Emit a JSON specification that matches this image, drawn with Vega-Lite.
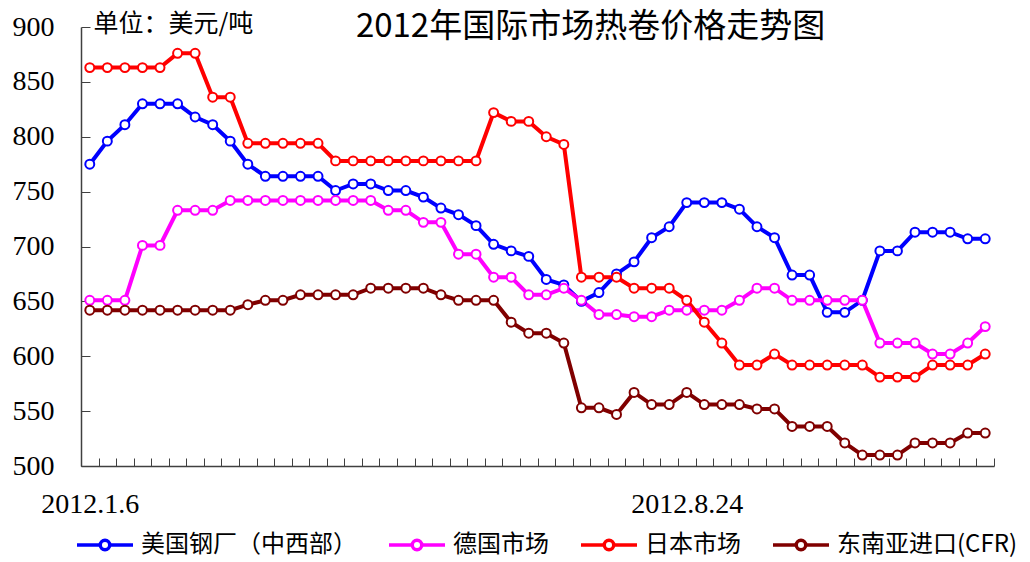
{
  "$schema": "https://vega.github.io/schema/vega-lite/v6.json",
  "width": 913,
  "height": 439,
  "autosize": {"type": "none"},
  "padding": {"left": 81, "top": 27, "right": 36, "bottom": 96},
  "background": "white",
  "config": {"view": {"stroke": null}, "font": "Noto Sans CJK SC"},
  "title": {
    "text": "2012年国际市场热卷价格走势图",
    "font": "Noto Sans CJK SC",
    "fontSize": 33,
    "fontWeight": "normal",
    "color": "black",
    "anchor": "middle",
    "frame": "group",
    "dx": 53,
    "offset": -33
  },
  "data": {
    "values": [
      {"w": 0, "美国钢厂（中西部）": 775, "德国市场": 651, "日本市场": 863, "东南亚进口(CFR)": 642},
      {"w": 1, "美国钢厂（中西部）": 796, "德国市场": 651, "日本市场": 863, "东南亚进口(CFR)": 642},
      {"w": 2, "美国钢厂（中西部）": 811, "德国市场": 651, "日本市场": 863, "东南亚进口(CFR)": 642},
      {"w": 3, "美国钢厂（中西部）": 830, "德国市场": 701, "日本市场": 863, "东南亚进口(CFR)": 642},
      {"w": 4, "美国钢厂（中西部）": 830, "德国市场": 701, "日本市场": 863, "东南亚进口(CFR)": 642},
      {"w": 5, "美国钢厂（中西部）": 830, "德国市场": 733, "日本市场": 876, "东南亚进口(CFR)": 642},
      {"w": 6, "美国钢厂（中西部）": 818, "德国市场": 733, "日本市场": 876, "东南亚进口(CFR)": 642},
      {"w": 7, "美国钢厂（中西部）": 811, "德国市场": 733, "日本市场": 836, "东南亚进口(CFR)": 642},
      {"w": 8, "美国钢厂（中西部）": 796, "德国市场": 742, "日本市场": 836, "东南亚进口(CFR)": 642},
      {"w": 9, "美国钢厂（中西部）": 775, "德国市场": 742, "日本市场": 794, "东南亚进口(CFR)": 647},
      {"w": 10, "美国钢厂（中西部）": 764, "德国市场": 742, "日本市场": 794, "东南亚进口(CFR)": 651},
      {"w": 11, "美国钢厂（中西部）": 764, "德国市场": 742, "日本市场": 794, "东南亚进口(CFR)": 651},
      {"w": 12, "美国钢厂（中西部）": 764, "德国市场": 742, "日本市场": 794, "东南亚进口(CFR)": 656},
      {"w": 13, "美国钢厂（中西部）": 764, "德国市场": 742, "日本市场": 794, "东南亚进口(CFR)": 656},
      {"w": 14, "美国钢厂（中西部）": 751, "德国市场": 742, "日本市场": 778, "东南亚进口(CFR)": 656},
      {"w": 15, "美国钢厂（中西部）": 757, "德国市场": 742, "日本市场": 778, "东南亚进口(CFR)": 656},
      {"w": 16, "美国钢厂（中西部）": 757, "德国市场": 742, "日本市场": 778, "东南亚进口(CFR)": 662},
      {"w": 17, "美国钢厂（中西部）": 751, "德国市场": 733, "日本市场": 778, "东南亚进口(CFR)": 662},
      {"w": 18, "美国钢厂（中西部）": 751, "德国市场": 733, "日本市场": 778, "东南亚进口(CFR)": 662},
      {"w": 19, "美国钢厂（中西部）": 745, "德国市场": 722, "日本市场": 778, "东南亚进口(CFR)": 662},
      {"w": 20, "美国钢厂（中西部）": 735, "德国市场": 722, "日本市场": 778, "东南亚进口(CFR)": 656},
      {"w": 21, "美国钢厂（中西部）": 729, "德国市场": 693, "日本市场": 778, "东南亚进口(CFR)": 651},
      {"w": 22, "美国钢厂（中西部）": 719, "德国市场": 693, "日本市场": 778, "东南亚进口(CFR)": 651},
      {"w": 23, "美国钢厂（中西部）": 702, "德国市场": 672, "日本市场": 822, "东南亚进口(CFR)": 651},
      {"w": 24, "美国钢厂（中西部）": 696, "德国市场": 672, "日本市场": 814, "东南亚进口(CFR)": 631},
      {"w": 25, "美国钢厂（中西部）": 691, "德国市场": 656, "日本市场": 814, "东南亚进口(CFR)": 621},
      {"w": 26, "美国钢厂（中西部）": 670, "德国市场": 656, "日本市场": 800, "东南亚进口(CFR)": 621},
      {"w": 27, "美国钢厂（中西部）": 665, "德国市场": 662, "日本市场": 793, "东南亚进口(CFR)": 612},
      {"w": 28, "美国钢厂（中西部）": 650, "德国市场": 651, "日本市场": 672, "东南亚进口(CFR)": 553},
      {"w": 29, "美国钢厂（中西部）": 658, "德国市场": 638, "日本市场": 672, "东南亚进口(CFR)": 553},
      {"w": 30, "美国钢厂（中西部）": 675, "德国市场": 638, "日本市场": 672, "东南亚进口(CFR)": 547},
      {"w": 31, "美国钢厂（中西部）": 686, "德国市场": 636, "日本市场": 662, "东南亚进口(CFR)": 567},
      {"w": 32, "美国钢厂（中西部）": 708, "德国市场": 636, "日本市场": 662, "东南亚进口(CFR)": 556},
      {"w": 33, "美国钢厂（中西部）": 718, "德国市场": 642, "日本市场": 662, "东南亚进口(CFR)": 556},
      {"w": 34, "美国钢厂（中西部）": 740, "德国市场": 642, "日本市场": 651, "东南亚进口(CFR)": 567},
      {"w": 35, "美国钢厂（中西部）": 740, "德国市场": 642, "日本市场": 631, "东南亚进口(CFR)": 556},
      {"w": 36, "美国钢厂（中西部）": 740, "德国市场": 642, "日本市场": 612, "东南亚进口(CFR)": 556},
      {"w": 37, "美国钢厂（中西部）": 734, "德国市场": 651, "日本市场": 592, "东南亚进口(CFR)": 556},
      {"w": 38, "美国钢厂（中西部）": 718, "德国市场": 662, "日本市场": 592, "东南亚进口(CFR)": 552},
      {"w": 39, "美国钢厂（中西部）": 708, "德国市场": 662, "日本市场": 602, "东南亚进口(CFR)": 552},
      {"w": 40, "美国钢厂（中西部）": 674, "德国市场": 651, "日本市场": 592, "东南亚进口(CFR)": 536},
      {"w": 41, "美国钢厂（中西部）": 674, "德国市场": 651, "日本市场": 592, "东南亚进口(CFR)": 536},
      {"w": 42, "美国钢厂（中西部）": 640, "德国市场": 651, "日本市场": 592, "东南亚进口(CFR)": 536},
      {"w": 43, "美国钢厂（中西部）": 640, "德国市场": 651, "日本市场": 592, "东南亚进口(CFR)": 521},
      {"w": 44, "美国钢厂（中西部）": 651, "德国市场": 651, "日本市场": 592, "东南亚进口(CFR)": 510},
      {"w": 45, "美国钢厂（中西部）": 696, "德国市场": 612, "日本市场": 581, "东南亚进口(CFR)": 510},
      {"w": 46, "美国钢厂（中西部）": 696, "德国市场": 612, "日本市场": 581, "东南亚进口(CFR)": 510},
      {"w": 47, "美国钢厂（中西部）": 713, "德国市场": 612, "日本市场": 581, "东南亚进口(CFR)": 521},
      {"w": 48, "美国钢厂（中西部）": 713, "德国市场": 602, "日本市场": 592, "东南亚进口(CFR)": 521},
      {"w": 49, "美国钢厂（中西部）": 713, "德国市场": 602, "日本市场": 592, "东南亚进口(CFR)": 521},
      {"w": 50, "美国钢厂（中西部）": 707, "德国市场": 612, "日本市场": 592, "东南亚进口(CFR)": 530},
      {"w": 51, "美国钢厂（中西部）": 707, "德国市场": 627, "日本市场": 602, "东南亚进口(CFR)": 530}
    ]
  },
  "transform": [
    {"fold": ["美国钢厂（中西部）", "德国市场", "日本市场", "东南亚进口(CFR)"], "as": ["series", "price"]}
  ],
  "encoding": {
    "x": {
      "field": "w",
      "type": "quantitative",
      "scale": {"domain": [-0.5, 51.5], "nice": false, "zero": false},
      "axis": {
        "title": null,
        "values": [-0.5, 0.5, 1.5, 2.5, 3.5, 4.5, 5.5, 6.5, 7.5, 8.5, 9.5, 10.5, 11.5, 12.5, 13.5, 14.5, 15.5, 16.5, 17.5, 18.5, 19.5, 20.5, 21.5, 22.5, 23.5, 24.5, 25.5, 26.5, 27.5, 28.5, 29.5, 30.5, 31.5, 32.5, 33.5, 34.5, 35.5, 36.5, 37.5, 38.5, 39.5, 40.5, 41.5, 42.5, 43.5, 44.5, 45.5, 46.5, 47.5, 48.5, 49.5, 50.5, 51.5],
        "labelExpr": "datum.value == -0.5 ? '2012.1.6' : (datum.value == 33.5 ? '2012.8.24' : '')",
        "labelOffset": 8.78,
        "labelFlush": false,
        "labelOverlap": false,
        "labelBound": false,
        "labelFont": "Liberation Serif",
        "labelFontSize": 28,
        "labelColor": "black",
        "labelPadding": 32,
        "tickSize": -8,
        "tickColor": "#404040",
        "domainColor": "#404040",
        "domainWidth": 1.5,
        "grid": false
      }
    },
    "y": {
      "field": "price",
      "type": "quantitative",
      "scale": {"domain": [500, 900], "nice": false, "zero": false},
      "axis": {
        "title": "单位：美元/吨",
        "titleAngle": 0,
        "titleAlign": "left",
        "titleBaseline": "middle",
        "titleX": 12,
        "titleY": -4,
        "titleFont": "Noto Sans CJK SC",
        "titleFontSize": 25,
        "titleFontWeight": "normal",
        "titleColor": "black",
        "values": [500, 550, 600, 650, 700, 750, 800, 850, 900],
        "labelFont": "Liberation Serif",
        "labelFontSize": 28,
        "labelColor": "black",
        "labelPadding": 36,
        "tickSize": -9,
        "tickColor": "#404040",
        "domainColor": "#404040",
        "domainWidth": 1.5,
        "grid": false
      }
    },
    "color": {
      "field": "series",
      "type": "nominal",
      "scale": {
        "domain": ["美国钢厂（中西部）", "德国市场", "日本市场", "东南亚进口(CFR)"],
        "range": ["#0000FF", "#FF00FF", "#FF0000", "#800000"]
      },
      "legend": {
        "orient": "none",
        "legendX": -6,
        "legendY": 488,
        "direction": "horizontal",
        "title": null,
        "padding": 0,
        "labelFont": "Noto Sans CJK SC",
        "labelFontSize": 24,
        "labelColor": "black",
        "labelLimit": 400,
        "labelOffset": 6,
        "columnPadding": 25,
        "symbolType": "M-1,0L-0.17,0M0.17,0L1,0M0.17,0A0.17,0.17,0,1,1,-0.17,0A0.17,0.17,0,1,1,0.17,0Z",
        "symbolSize": 3136,
        "symbolStrokeWidth": 3.5,
        "symbolFillColor": "white",
        "encode": {"symbols": {"update": {"fill": {"value": "white"}, "strokeWidth": {"value": 3.5}}}}
      }
    }
  },
  "layer": [
    {"mark": {"type": "line", "strokeWidth": 4}},
    {"mark": {"type": "point", "shape": "circle", "filled": false, "fill": "white", "size": 80, "strokeWidth": 2, "opacity": 1}}
  ]
}
